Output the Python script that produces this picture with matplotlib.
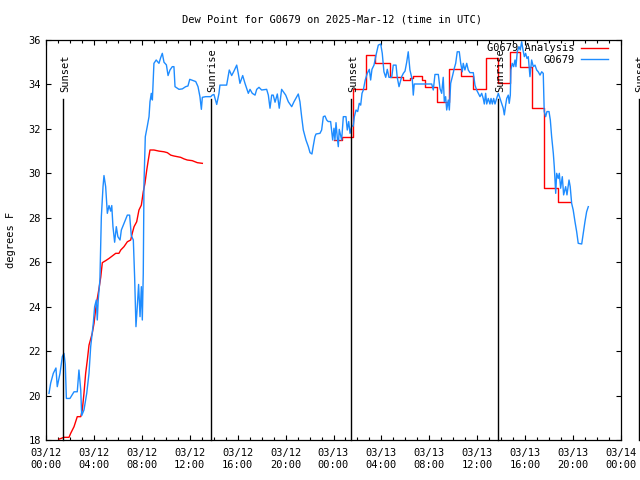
import matplotlib
matplotlib.use("Agg")
import matplotlib.pyplot as plt
import matplotlib.dates as mdates
import pandas as pd

# hours after 2025-03-12 00:00 UTC
obs_hours = [0.25, 0.39, 0.61, 0.83, 0.94, 1.17, 1.36, 1.5, 1.61, 1.7, 2.0, 2.34, 2.61, 2.75, 2.9, 2.98,
             3.17, 3.4, 3.59, 3.73, 3.95, 4.06, 4.2, 4.28, 4.36, 4.5, 4.62, 4.76, 4.84, 4.98, 5.12, 5.26,
             5.4, 5.49, 5.59, 5.73, 5.87, 6.0, 6.18, 6.29, 6.51, 6.79, 6.98, 7.12, 7.29, 7.4, 7.51, 7.62,
             7.73, 7.85, 7.96, 8.04, 8.12, 8.18, 8.29, 8.45, 8.6, 8.68, 8.79, 8.88, 9.01, 9.2, 9.43, 9.57,
             9.71, 9.85, 10.05, 10.19, 10.35, 10.54, 10.68, 10.77, 11.1, 11.38, 11.66, 11.85, 12.0, 12.3,
             12.5, 12.69, 12.85, 12.97, 13.05, 13.33, 13.75, 13.88, 14.02, 14.25, 14.44, 14.52, 15.08, 15.3,
             15.5, 15.69, 15.92, 16.05, 16.19, 16.42, 16.61, 16.89, 17.03, 17.22, 17.45, 17.59, 17.78, 18.0,
             18.42, 18.56, 18.7, 18.84, 18.97, 19.12, 19.31, 19.47, 19.67, 19.81, 20.01, 20.23, 20.51, 20.7,
             20.93, 21.06, 21.2, 21.34, 21.48, 21.7, 21.9, 22.04, 22.2, 22.31, 22.45, 22.54, 22.87, 23.01,
             23.15, 23.29, 23.43, 23.56, 23.76, 23.93, 24.04, 24.12, 24.21, 24.32, 24.4, 24.48, 24.68, 24.82,
             25.04, 25.15, 25.27, 25.38, 25.52, 25.65, 25.74, 25.88, 26.02, 26.15, 26.27, 26.38, 26.49, 26.65,
             26.82, 26.99, 27.1, 27.21, 27.38, 27.55, 27.74, 27.94, 28.07, 28.21, 28.36, 28.49, 28.63, 28.86,
             28.99, 29.22, 29.32, 29.47, 29.69, 29.83, 29.97, 30.11, 30.24, 30.38, 30.58, 30.66, 30.74, 32.2,
             32.33, 32.47, 32.75, 32.89, 33.03, 33.16, 33.25, 33.36, 33.45, 33.58, 33.67, 33.78, 33.92, 34.08,
             34.2, 34.33, 34.5, 34.62, 34.75, 34.83, 34.97, 35.12, 35.25, 35.39, 35.67, 35.81, 35.95, 36.09,
             36.23, 36.37, 36.5, 36.59, 36.7, 36.79, 36.92, 37.06, 37.15, 37.26, 37.37, 37.48, 37.62, 37.76,
             37.9, 38.04, 38.17, 38.26, 38.37, 38.46, 38.59, 38.67, 38.76, 38.81, 38.92, 39.04, 39.15, 39.23,
             39.34, 39.48, 39.59, 39.71, 39.82, 39.93, 40.04, 40.15, 40.26, 40.4, 40.54, 40.68, 40.82, 40.96,
             41.09, 41.24, 41.38, 41.51, 41.59, 41.71, 41.82, 41.99, 42.1, 42.21, 42.35, 42.43, 42.55, 42.63,
             42.76, 42.85, 42.96, 43.1, 43.21, 43.38, 43.49, 43.66, 43.76, 43.88, 44.01, 44.16, 44.3, 44.43,
             44.72, 44.85, 44.99, 45.13, 45.27]
obs_dewpt = [20.1, 20.56, 21.0, 21.24, 20.4, 21.0, 21.75, 21.9, 21.4, 19.87, 19.87, 20.17, 20.17, 21.15, 20.25, 19.1,
             19.35, 20.1, 21.0, 22.2, 23.26, 24.0, 24.3, 23.4, 24.3, 25.2, 28.05, 29.4, 29.9, 29.4, 28.2, 28.55,
             28.3, 28.55, 27.6, 26.9, 27.6, 27.15, 27.0, 27.45, 27.75, 28.12, 28.12, 27.2, 27.0, 25.3, 23.1, 24.0,
             25.0, 23.55, 24.9, 23.4, 25.5, 29.55, 31.65, 32.1, 32.55, 33.22, 33.6, 33.3, 34.95, 35.1, 34.95, 35.2,
             35.4, 35.0, 34.88, 34.4, 34.65, 34.8, 34.8, 33.9, 33.78, 33.8, 33.9, 33.93, 34.23, 34.17,
             34.13, 33.9, 33.45, 32.88, 33.42, 33.45, 33.45, 33.52, 33.55, 33.1, 33.6, 33.97, 33.97, 34.65,
             34.4, 34.6, 34.87, 34.5, 34.05, 34.4, 34.05, 33.6, 33.78, 33.6, 33.52, 33.78, 33.87, 33.75,
             33.78, 33.52, 32.93, 33.52, 33.52, 33.2, 33.57, 32.93, 33.78, 33.67, 33.52, 33.22, 33.0, 33.22,
             33.45, 33.57, 33.22, 32.55, 31.95, 31.5, 31.2, 30.93, 30.87, 31.23, 31.65, 31.77, 31.8, 31.95,
             32.55, 32.58, 32.4, 32.33, 32.33, 31.5, 32.03, 31.5, 32.28, 31.58, 31.2, 31.98, 31.5, 32.55,
             32.55, 31.95, 32.33, 31.8, 32.13, 32.13, 32.55, 32.85, 32.78, 33.15, 33.07, 33.6, 33.75, 34.2,
             34.5, 34.68, 34.2, 34.68, 34.87, 35.32, 35.77, 35.82, 35.4, 34.57, 34.32, 34.68, 34.32, 34.32,
             34.87, 34.87, 34.32, 33.9, 34.35, 34.5, 34.6, 35.0, 35.47, 34.65, 34.2, 33.52, 34.02, 34.02,
             33.75, 34.45, 34.45, 33.82, 33.6, 34.32, 33.22, 33.45, 32.85, 33.3, 32.85, 34.05, 34.35, 34.72,
             34.95, 35.47, 35.47, 34.95, 34.57, 34.95, 34.65, 34.95, 34.65, 34.53, 34.53, 33.97, 33.75, 33.6,
             33.45, 33.6, 33.37, 33.12, 33.6, 33.12, 33.37, 33.12, 33.37, 33.12, 33.37, 33.12, 33.37, 33.6,
             33.37, 33.15, 32.93, 32.63, 33.07, 33.37, 33.52, 33.15, 33.52, 34.65, 34.95, 34.8, 35.1, 34.8,
             35.47, 35.7, 35.55, 35.92, 35.55, 35.25, 35.4, 35.17, 35.25, 34.35, 35.1, 34.8, 34.87, 34.65,
             34.57, 34.42, 34.57, 34.5, 32.78, 32.55, 32.78, 32.78, 32.4, 31.65, 30.9, 30.3, 29.1, 30.0,
             29.77, 30.0, 29.33, 29.85, 29.03, 29.4, 29.03, 29.7, 29.4, 28.65, 28.35, 27.82, 27.37, 26.85,
             26.82, 27.3, 27.82, 28.27, 28.5]

# analysis, first day (smooth) and second day (hourly steps)
ana1_hours = [1.09, 1.5, 1.92, 2.06, 2.34, 2.61, 2.9, 3.03, 3.17, 3.31, 3.45, 3.59, 3.86, 4.01, 4.15, 4.28,
              4.42, 4.57, 4.7, 4.98, 5.26, 5.53, 5.82, 6.09, 6.24, 6.51, 6.79, 7.07, 7.2, 7.35, 7.57, 7.76,
              7.96, 8.12, 8.26, 8.41, 8.54, 8.68, 9.01, 9.43, 9.85, 10.13, 10.41, 10.68, 10.96, 11.24, 11.52,
              11.79, 12.21, 12.63, 13.05]
ana1_dewpt = [18.04, 18.12, 18.12, 18.3, 18.6, 19.05, 19.05, 19.35, 20.1, 21.0, 21.6, 22.27, 22.8, 23.25, 23.9, 24.36,
              24.8, 25.33, 25.98, 26.07, 26.17, 26.28, 26.4, 26.4, 26.55, 26.7, 26.92, 27.0, 27.3, 27.6, 27.82, 28.35,
              28.57, 29.17, 29.55, 30.15, 30.6, 31.05, 31.05, 31.0, 30.97, 30.93, 30.82, 30.78, 30.75, 30.72, 30.65,
              30.6, 30.57, 30.48, 30.45]
ana2_hours = [24.04, 24.68, 25.65, 26.71, 27.5, 28.71, 29.82, 30.38, 30.63, 31.22, 31.39, 31.64, 32.61, 33.64,
              34.64, 35.67, 36.73, 37.7, 38.73, 39.57, 40.6, 41.6, 42.71, 43.74]
ana2_dewpt = [31.5, 31.65, 33.78, 35.32, 34.95, 34.35, 34.2, 34.3, 34.38, 34.38, 34.2, 33.9, 33.22, 34.68,
              34.38, 33.78, 35.17, 34.05, 35.45, 34.77, 32.92, 29.33, 28.7, 28.7]

sun_hours = [1.45, 13.77, 25.5, 37.75, 49.47]
sun_labels = ["Sunset", "Sunrise", "Sunset", "Sunrise", "Sunset"]

base = pd.Timestamp("2025-03-12 00:00")
def to_time(h):
    return base + pd.to_timedelta(h, unit="h")

plt.rcParams["font.family"] = "DejaVu Sans Mono"
plt.rcParams["font.size"] = 7.5

fig = plt.figure(figsize=(6.4, 4.8), dpi=100)
ax = fig.add_axes([46 / 640, 40 / 480, 575 / 640, 400 / 480])

ax.plot(to_time(ana1_hours), ana1_dewpt, color="#ff0000", lw=1.0, label="G0679 Analysis")
ax.plot(to_time(ana2_hours), ana2_dewpt, color="#ff0000", lw=1.0, drawstyle="steps-post")
ax.plot(to_time(obs_hours), obs_dewpt, color="#1e8cff", lw=1.0, label="G0679")

for h, lab in zip(sun_hours, sun_labels):
    t = to_time(h)
    ax.plot([t, t], [18, 33.35], color="black", lw=1.0, clip_on=False)
    ax.annotate(lab, xy=(t, 33.66), xytext=(1.2, 0), textcoords="offset points",
                rotation=90, ha="center", va="bottom", annotation_clip=False)

ax.set_xlim(base, to_time(48))
ax.set_ylim(18, 36)
ax.set_yticks(range(18, 37, 2))
ax.xaxis.set_major_locator(mdates.HourLocator(byhour=range(0, 24, 4)))
ax.xaxis.set_minor_locator(mdates.HourLocator())
ax.xaxis.set_major_formatter(mdates.DateFormatter("%m/%d\n%H:%M"))
ax.tick_params(which="both", direction="in", top=True, right=True, width=0.8)
ax.tick_params(which="major", length=3.5)
ax.tick_params(axis="x", which="major", pad=6)
ax.tick_params(which="minor", length=2)
for s in ax.spines.values():
    s.set_linewidth(0.9)

ax.set_ylabel("degrees F", labelpad=9)
fig.text(332 / 640, 1 - 20 / 480, "Dew Point for G0679 on 2025-Mar-12 (time in UTC)",
         ha="center", va="center")

ax.legend(loc="upper right", bbox_to_anchor=(0.981, 0.997), frameon=False, markerfirst=False,
          handlelength=2.6, handletextpad=0.6, labelspacing=0.15, borderaxespad=0, borderpad=0.2)

fig.savefig("out.png", dpi=100)
